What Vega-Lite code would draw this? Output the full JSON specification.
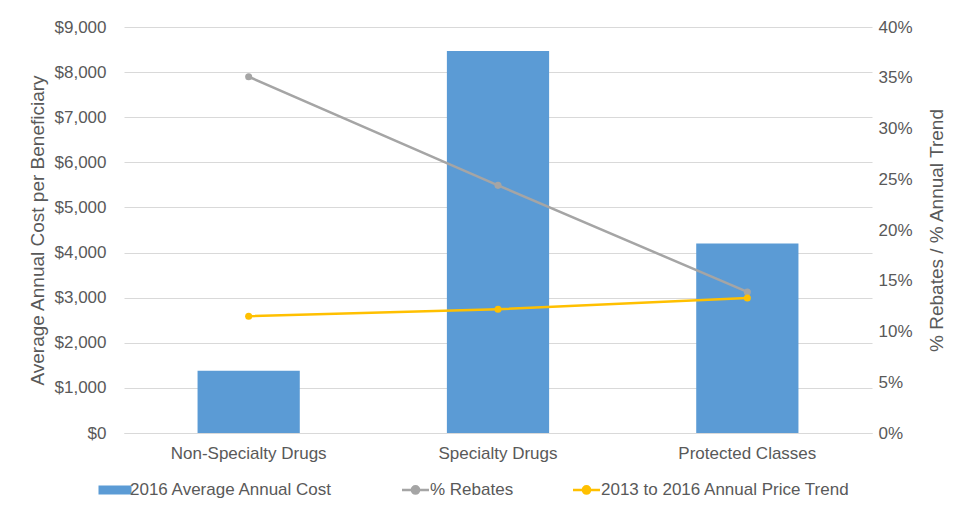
{
  "$schema": "https://vega.github.io/schema/vega-lite/v6.json",
  "width": 961,
  "height": 515,
  "autosize": {"type": "fit", "contains": "padding"},
  "padding": {"left": 28, "right": 14, "top": 18, "bottom": 54},
  "config": {
    "font": "Liberation Sans",
    "view": {"stroke": null},
    "axis": {
      "labelColor": "#595959",
      "titleColor": "#595959",
      "labelFontSize": 17,
      "titleFontSize": 19,
      "titleFontWeight": "normal",
      "ticks": false,
      "domain": false
    },
    "legend": {"labelColor": "#595959", "labelFontSize": 17, "labelLimit": 400}
  },
  "datasets": {
    "bars": [
      {"category": "Non-Specialty Drugs", "cost": 1380},
      {"category": "Specialty Drugs", "cost": 8470},
      {"category": "Protected Classes", "cost": 4200}
    ],
    "lines": [
      {"category": "Non-Specialty Drugs", "series": "% Rebates", "pct": 0.351},
      {"category": "Specialty Drugs", "series": "% Rebates", "pct": 0.244},
      {"category": "Protected Classes", "series": "% Rebates", "pct": 0.139},
      {"category": "Non-Specialty Drugs", "series": "2013 to 2016 Annual Price Trend", "pct": 0.115},
      {"category": "Specialty Drugs", "series": "2013 to 2016 Annual Price Trend", "pct": 0.122},
      {"category": "Protected Classes", "series": "2013 to 2016 Annual Price Trend", "pct": 0.133}
    ]
  },
  "layer": [
    {
      "data": {"name": "bars"},
      "mark": {"type": "bar", "color": "#5b9bd5"},
      "encoding": {
        "x": {
          "field": "category",
          "type": "nominal",
          "sort": null,
          "title": null,
          "scale": {"paddingInner": 0.59, "paddingOuter": 0.295},
          "axis": {"labelAngle": 0, "labelPadding": 12, "domain": true, "domainColor": "#d9d9d9"}
        },
        "y": {
          "field": "cost",
          "type": "quantitative",
          "title": "Average Annual Cost per Beneficiary",
          "scale": {"domain": [0, 9000]},
          "axis": {"format": "$,.0f", "values": [0, 1000, 2000, 3000, 4000, 5000, 6000, 7000, 8000, 9000], "gridColor": "#d9d9d9", "labelPadding": 18, "titlePadding": 7}
        },
        "fill": {
          "datum": "2016 Average Annual Cost",
          "scale": {"range": ["#5b9bd5"]},
          "legend": {"orient": "none", "legendX": -20, "legendY": 452, "title": null, "symbolType": "M-1.5,-0.4H1.5V0.4H-1.5Z", "symbolSize": 484, "symbolStrokeWidth": 0, "labelOffset": 4}
        }
      }
    },
    {
      "data": {"name": "lines"},
      "mark": {"type": "line", "strokeWidth": 2.5, "point": {"size": 50, "filled": true}},
      "encoding": {
        "x": {"field": "category", "type": "nominal", "sort": null},
        "y": {
          "field": "pct",
          "type": "quantitative",
          "title": "% Rebates / % Annual Trend",
          "scale": {"domain": [0, 0.4]},
          "axis": {"orient": "right", "format": ".0%", "values": [0, 0.05, 0.1, 0.15, 0.2, 0.25, 0.3, 0.35, 0.4], "grid": false, "labelPadding": 6, "titlePadding": 34, "titleAngle": 270, "titleFontSize": 19}
        },
        "color": {
          "field": "series",
          "type": "nominal",
          "sort": null,
          "scale": {"domain": ["% Rebates", "2013 to 2016 Annual Price Trend"], "range": ["#a5a5a5", "#ffc000"]},
          "legend": {"orient": "none", "legendX": 281, "legendY": 452, "direction": "horizontal", "title": null, "symbolType": "M-1.5,0H1.5M0.4,0A0.4,0.4 0 1,1 -0.4,0A0.4,0.4 0 1,1 0.4,0", "symbolSize": 324, "symbolStrokeWidth": 2.5, "columnPadding": 54}
        }
      }
    }
  ],
  "resolve": {"scale": {"y": "independent", "color": "independent"}, "legend": {"color": "independent"}}
}
